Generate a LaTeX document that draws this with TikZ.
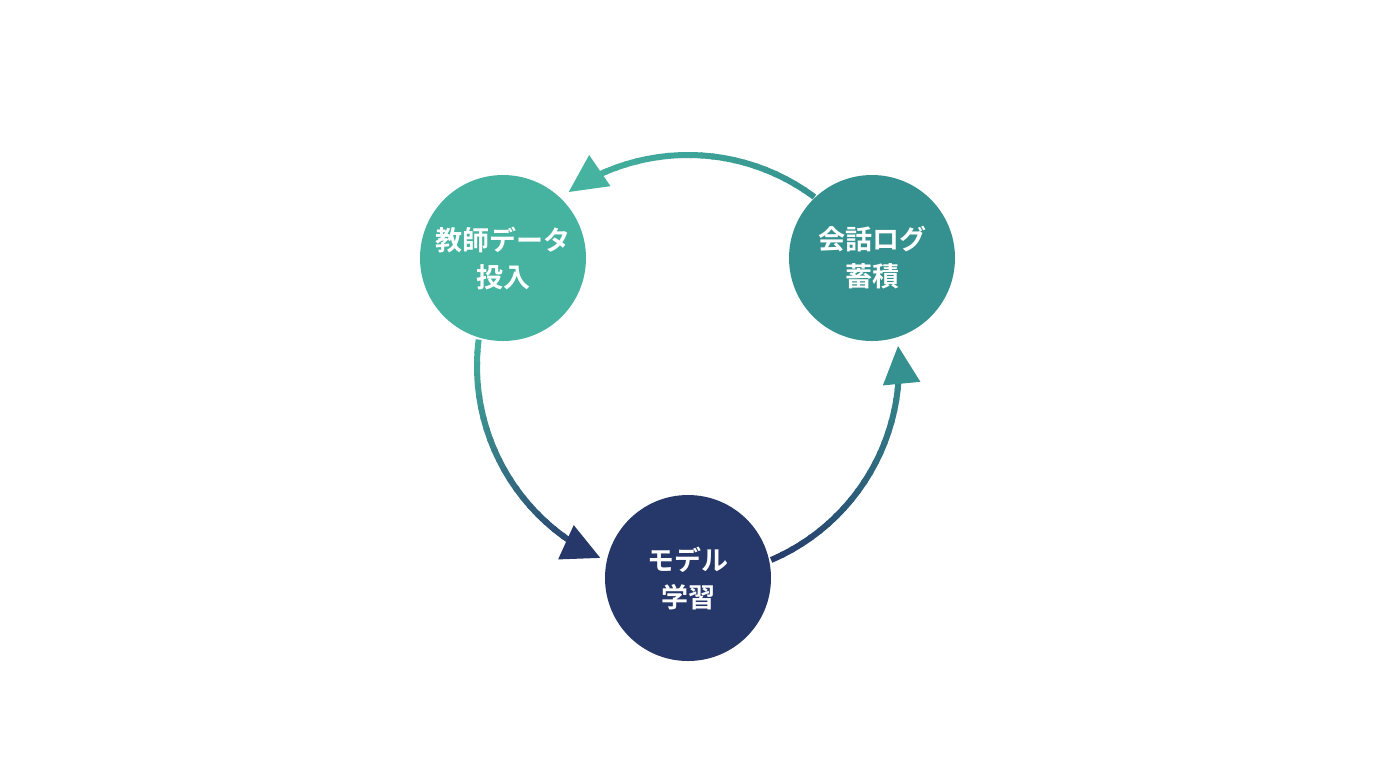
\documentclass[tikz,border=0pt]{standalone}
\usepackage{fontspec}
\newfontfamily\jp{Noto Sans CJK JP}[BoldFont={Noto Sans CJK JP Bold}]
\usetikzlibrary{arrows.meta}
\definecolor{tealL}{HTML}{45B3A0}
\definecolor{tealR}{HTML}{35918F}
\definecolor{navy}{HTML}{263869}
\tikzset{
  stage/.style={circle, minimum size=83pt, inner sep=0pt, align=center,
    text=white, font=\jp\bfseries\fontsize{13.5}{18.5}\selectfont},
  flow/.style={line width=3pt, line cap=butt},
}
% arc along the ring, split into slices for a colour fade
\newcommand{\ringarc}[4]{%
  \foreach \k in {1,...,24}{%
    \pgfmathsetmacro\aa{#1+(#2-#1)*(\k-1)/24}%
    \pgfmathsetmacro\bb{#1+(#2-#1)*\k/24+(#2-#1)*0.01}%
    \pgfmathtruncatemacro\pp{100*\k/24}%
    \colorlet{segc}{#4!\pp!#3}%
    \ifnum\k=24
      \draw[flow, segc, -{Triangle[length=19pt, width=18pt]}]
        (ring)+(\aa:211) arc[start angle=\aa, end angle=#2, radius=211];
    \else
      \draw[flow, segc] (ring)+(\aa:211) arc[start angle=\aa, end angle=\bb, radius=211];
    \fi}}
\begin{document}
\begin{tikzpicture}[x=0.5pt, y=-0.5pt]
\useasboundingbox (0,0) rectangle (1376,768);
\coordinate (ring) at (688,366);

\node[stage, fill=tealL] (data) at (503,258) {教師データ\\投入};
\node[stage, fill=tealR] (logs) at (872,258) {会話ログ\\蓄積};
\node[stage, fill=navy] (train) at (688,578) {モデル\\学習};

\ringarc{306.8}{235.5}{tealR}{tealL}
\ringarc{187.2}{114.5}{tealL}{navy}
\ringarc{66.8}{-5.5}{navy}{tealR}
\end{tikzpicture}
\end{document}
